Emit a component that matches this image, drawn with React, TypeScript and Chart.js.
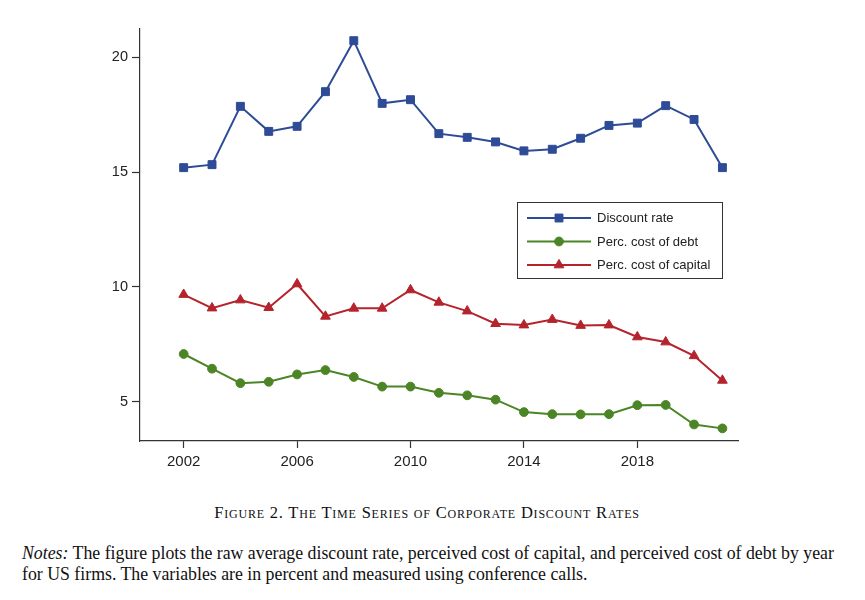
import React, { useEffect, useRef } from "react";
import { Chart, registerables } from "chart.js";
import { drawPoint } from "chart.js/helpers";

Chart.register(...registerables);

const years = [2002, 2003, 2004, 2005, 2006, 2007, 2008, 2009, 2010, 2011, 2012, 2013, 2014, 2015, 2016, 2017, 2018, 2019, 2020, 2021];
const discountRate = [15.2, 15.33, 17.87, 16.78, 17.0, 18.51, 20.73, 18.0, 18.16, 16.68, 16.52, 16.32, 15.93, 16.0, 16.48, 17.04, 17.14, 17.9, 17.3, 15.2];
const costOfDebt = [7.08, 6.44, 5.81, 5.87, 6.19, 6.38, 6.08, 5.66, 5.66, 5.39, 5.28, 5.09, 4.55, 4.46, 4.45, 4.46, 4.85, 4.86, 4.01, 3.84];
const costOfCapital = [9.67, 9.08, 9.43, 9.1, 10.13, 8.72, 9.07, 9.07, 9.87, 9.33, 8.95, 8.4, 8.34, 8.58, 8.32, 8.34, 7.82, 7.6, 7.0, 5.93];
const xTickValues = [2002, 2006, 2010, 2014, 2018];
const yTickValues = [5, 10, 15, 20];
const seriesLabels = ["Discount rate", "Perc. cost of debt", "Perc. cost of capital"];

const BLUE = "#2d4b96";
const GREEN = "#4b8526";
const RED = "#b5232c";
const AXIS = "#333333";
const SANS = "'Liberation Sans', Arial, Helvetica, sans-serif";
const SERIF = "'Liberation Serif', 'Times New Roman', serif";

const seriesStyles = [
  { color: BLUE, pointStyle: "rect", radius: 5.6 },
  { color: GREEN, pointStyle: "circle", radius: 4.4 },
  { color: RED, pointStyle: "triangle", radius: 5.6 },
];

const legendPlugin = {
  id: "stataLegend",
  afterDraw(chart: any) {
    const ctx = chart.ctx;
    const boxL = 517, boxT = 202, boxW = 205, boxH = 76;
    ctx.save();
    ctx.fillStyle = "#ffffff";
    ctx.fillRect(boxL, boxT, boxW, boxH);
    ctx.strokeStyle = AXIS;
    ctx.lineWidth = 1;
    ctx.strokeRect(boxL + 0.5, boxT + 0.5, boxW, boxH);
    const rows = [218, 241.5, 265];
    chart.data.datasets.forEach((ds: any, i: number) => {
      const y = rows[i];
      const st = seriesStyles[i];
      ctx.strokeStyle = st.color;
      ctx.lineWidth = 2;
      ctx.beginPath();
      ctx.moveTo(527, y);
      ctx.lineTo(591, y);
      ctx.stroke();
      ctx.fillStyle = st.color;
      ctx.strokeStyle = st.color;
      ctx.lineWidth = 1;
      drawPoint(ctx, { pointStyle: st.pointStyle, radius: st.radius, rotation: 0, borderWidth: 1 }, 559, y);
      ctx.fillStyle = "#222222";
      ctx.font = `13px ${SANS}`;
      ctx.textBaseline = "middle";
      ctx.textAlign = "left";
      ctx.fillText(ds.label, 597, y + 0.5);
    });
    ctx.restore();
  },
};

function App() {
  const canvasRef = useRef<HTMLCanvasElement | null>(null);

  useEffect(() => {
    document.body.style.margin = "0";
    const canvas = canvasRef.current;
    if (!canvas) return;
    const seriesData = [discountRate, costOfDebt, costOfCapital];
    const chart = new Chart(canvas, {
      type: "line",
      data: {
        datasets: seriesData.map((vals, i) => ({
          label: seriesLabels[i],
          data: years.map((yr, j) => ({ x: yr, y: vals[j] })),
          borderColor: seriesStyles[i].color,
          backgroundColor: seriesStyles[i].color,
          pointBackgroundColor: seriesStyles[i].color,
          pointBorderColor: seriesStyles[i].color,
          pointBorderWidth: 1,
          pointStyle: seriesStyles[i].pointStyle as any,
          pointRadius: seriesStyles[i].radius,
          borderWidth: 2,
          tension: 0,
          fill: false,
        })),
      },
      options: {
        responsive: false,
        animation: false,
        layout: { padding: { left: 0, right: 127, top: 29, bottom: 0 } },
        plugins: {
          legend: { display: false },
          tooltip: { enabled: false },
        },
        scales: {
          x: {
            type: "linear",
            min: 2000.46,
            max: 2021.55,
            afterBuildTicks: (s: any) => {
              s.ticks = xTickValues.map((v) => ({ value: v }));
            },
            afterFit: (s: any) => {
              s.height = 39;
            },
            grid: { drawOnChartArea: false, tickLength: 7, color: AXIS, tickColor: AXIS, tickWidth: 1.2 },
            border: { color: AXIS, width: 1.2 },
            ticks: {
              font: { family: SANS, size: 15 },
              color: "#222222",
              padding: 5,
              maxRotation: 0,
              autoSkip: false,
              callback: (v: any) => String(v),
            },
          },
          y: {
            type: "linear",
            min: 3.29,
            max: 21.24,
            afterBuildTicks: (s: any) => {
              s.ticks = yTickValues.map((v) => ({ value: v }));
            },
            afterFit: (s: any) => {
              s.width = 140;
            },
            grid: { drawOnChartArea: false, tickLength: 8, color: AXIS, tickColor: AXIS, tickWidth: 1.2 },
            border: { color: AXIS, width: 1.2 },
            ticks: {
              font: { family: SANS, size: 14.5 },
              color: "#222222",
              padding: 4,
              autoSkip: false,
              callback: (v: any) => String(v),
            },
          },
        },
      },
      plugins: [legendPlugin],
    });
    return () => chart.destroy();
  }, []);

  return (
    <div style={{ position: "relative", width: 865, height: 600, background: "#fff", overflow: "hidden" }}>
      <canvas ref={canvasRef} width={865} height={480} style={{ display: "block", position: "absolute", left: 0, top: 0 }} />
      <div
        style={{
          position: "absolute",
          left: 0,
          width: 854,
          top: 503,
          textAlign: "center",
          fontFamily: SERIF,
          fontVariant: "small-caps",
          fontSize: 16.5,
          letterSpacing: 0.8,
          color: "#111",
          lineHeight: "20px",
          whiteSpace: "nowrap",
        }}
      >
        Figure 2. The Time Series of Corporate Discount Rates
      </div>
      <div
        style={{
          position: "absolute",
          left: 22,
          top: 543,
          fontFamily: SERIF,
          fontSize: 17.8,
          color: "#111",
          lineHeight: "21px",
          whiteSpace: "nowrap",
        }}
      >
        <i>Notes:</i> The figure plots the raw average discount rate, perceived cost of capital, and perceived cost of debt by year
        <br />
        for US firms. The variables are in percent and measured using conference calls.
      </div>
    </div>
  );
}

export default App;
